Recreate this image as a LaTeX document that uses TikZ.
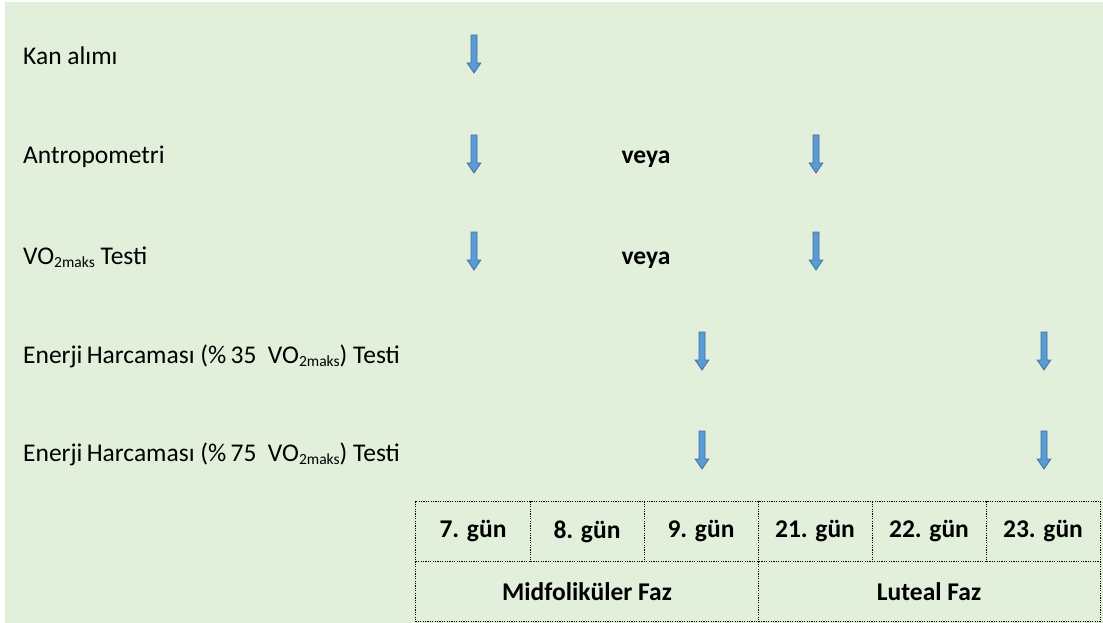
\documentclass[tikz,border=0pt]{standalone}
\usepackage{fontspec}
\setmainfont{Carlito}
\definecolor{bg}{HTML}{E2EFDA}
\definecolor{arrfill}{HTML}{5B9BD5}
\definecolor{arrdraw}{HTML}{41719C}
\newcommand{\vomaks}{VO\raisebox{-3.5pt}{\fontsize{15.5}{15.5}\selectfont 2maks}}
\tikzset{
  lbl/.style={anchor=base west, inner sep=0pt, font=\fontsize{25.5}{30}\selectfont},
  orword/.style={anchor=base, inner sep=0pt, font=\fontsize{25.5}{30}\selectfont\bfseries},
  cell/.style={minimum width=114pt, minimum height=60pt, inner sep=0pt,
    font=\fontsize{25.5}{30}\selectfont\bfseries},
  wcell/.style={cell, minimum width=342pt},
  dotline/.style={draw=black, line width=1.2pt, dash pattern=on 1.2pt off 1.2pt},
  downarr/.pic={
    \draw[fill=arrfill, draw=arrdraw, line width=0.8pt, line join=miter]
      (-3,0) -- (3,0) -- (3,28) -- (6.8,28) -- (0,38) -- (-6.8,28) -- (-3,28) -- cycle;
  }
}
\begin{document}
\begin{tikzpicture}[x=1pt,y=-1pt]
\useasboundingbox (0,0) rectangle (1103,623);
\fill[bg] (5,2) rectangle (1103,623);

% row labels
\node[lbl] (kan) at (23,65) {Kan alımı};
\node[lbl] (ant) at (23,164) {Antropometri};
\node[lbl] (vo) at (23,264) {\vomaks\ Testi};
\node[lbl] (e35) at (23,363) {Enerji\,Harcaması (\%\,35\ \ \vomaks) Testi};
\node[lbl] (e75) at (23,461) {Enerji\,Harcaması (\%\,75\ \ \vomaks) Testi};

% veya
\node[orword] (or1) at (646,164) {veya};
\node[orword] (or2) at (646,264) {veya};

% arrows
\pic at (474,35) {downarr};
\pic at (474,135) {downarr};
\pic at (816,135) {downarr};
\pic at (474,232) {downarr};
\pic at (816,232) {downarr};
\pic at (702,332) {downarr};
\pic at (1044,332) {downarr};
\pic at (702,431) {downarr};
\pic at (1044,431) {downarr};

% table cells
\node[cell] (d7)  at (473,531.5) {7. gün};
\node[cell] (d8)  at (587,531.5) {8. gün};
\node[cell] (d9)  at (701,531.5) {9. gün};
\node[cell] (d21) at (815,531.5) {21. gün};
\node[cell] (d22) at (929,531.5) {22. gün};
\node[cell] (d23) at (1043,531.5) {23. gün};
\node[wcell] (mid) at (587,591.5) {Midfoliküler Faz};
\node[wcell] (lut) at (929,591.5) {Luteal Faz};

% table lines
\draw[dotline] (d7.north west) rectangle (lut.south east);
\draw[dotline] (mid.north west) -- (lut.north east);
\draw[dotline] (d7.north east) -- (d7.south east);
\draw[dotline] (d8.north east) -- (d8.south east);
\draw[dotline] (d22.north east) -- (d22.south east);
\draw[dotline] (d21.north east) -- (d21.south east);
\draw[dotline] (d9.north east) -- (mid.south east);
\end{tikzpicture}
\end{document}
